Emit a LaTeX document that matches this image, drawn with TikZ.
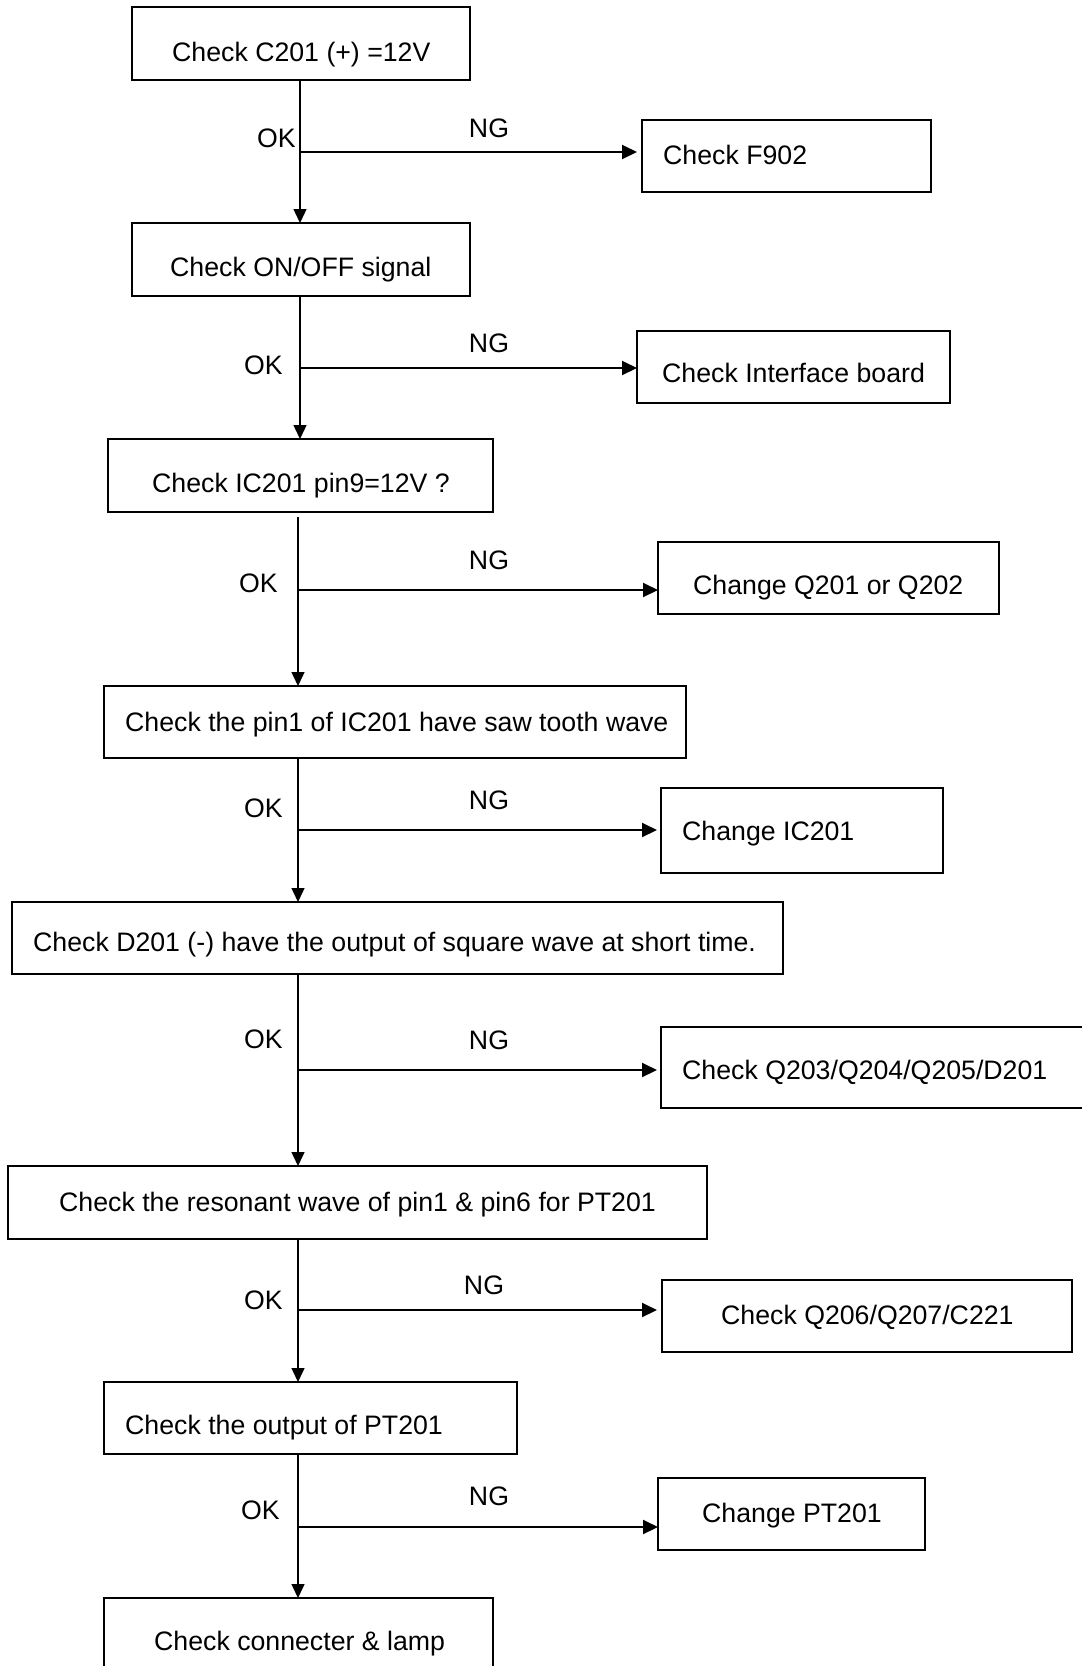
\documentclass[tikz,border=0pt]{standalone}
\usepackage{fontspec}
\setmainfont{Liberation Sans}
\usetikzlibrary{arrows.meta}
\begin{document}
\begin{tikzpicture}[x=1pt,y=-1pt,
  box/.style={draw, line width=2pt, anchor=north west, inner sep=0pt, outer sep=0pt},
  lbl/.style={font=\fontsize{26.7}{32}\selectfont, inner sep=0pt, text height=19pt, text depth=0pt, anchor=west},
  ng/.style={font=\fontsize{26.7}{32}\selectfont, inner sep=0pt, text height=19pt, text depth=0pt, anchor=center},
  spine/.style={line width=1.4pt, -{Triangle[length=14pt,width=13pt]}},
  ngarrow/.style={line width=2pt, -{Triangle[length=15pt,width=14pt]}}]
\useasboundingbox (0,0) rectangle (1082,1666);
\clip (0,0) rectangle (1082,1666);
% main boxes
\node[box, minimum width=338pt, minimum height=73pt] (b1) at (132,7) {};
\node[box, minimum width=338pt, minimum height=73pt] (b2) at (132,223) {};
\node[box, minimum width=385pt, minimum height=73pt] (b3) at (108,439) {};
\node[box, minimum width=582pt, minimum height=72pt] (b4) at (104,686) {};
\node[box, minimum width=771pt, minimum height=72pt] (b5) at (12,902) {};
\node[box, minimum width=699pt, minimum height=73pt] (b6) at (8,1166) {};
\node[box, minimum width=413pt, minimum height=72pt] (b7) at (104,1382) {};
\node[box, minimum width=389pt, minimum height=110pt] (b8) at (104,1598) {};
% side boxes
\node[box, minimum width=289pt, minimum height=72pt] (r1) at (642,120) {};
\node[box, minimum width=313pt, minimum height=72pt] (r2) at (637,331) {};
\node[box, minimum width=341pt, minimum height=72pt] (r3) at (658,542) {};
\node[box, minimum width=282pt, minimum height=85pt] (r4) at (661,788) {};
\node[box, minimum width=440pt, minimum height=81pt] (r5) at (661,1027) {};
\node[box, minimum width=410pt, minimum height=72pt] (r6) at (662,1280) {};
\node[box, minimum width=267pt, minimum height=72pt] (r7) at (658,1478) {};
% box texts
\node[lbl] (t1) at (172,52) {Check C201 (+) =12V};
\node[lbl] (t2) at (170,267) {Check ON/OFF signal};
\node[lbl] (t3) at (152,483) {Check IC201 pin9=12V ?};
\node[lbl] (t4) at (125,722) {Check the pin1 of IC201 have saw tooth wave};
\node[lbl] (t5) at (33,942) {Check D201 (-) have the output of square wave at short time.};
\node[lbl] (t6) at (59,1202) {Check the resonant wave of pin1 \& pin6 for PT201};
\node[lbl] (t7) at (125,1425) {Check the output of PT201};
\node[lbl] (t8) at (154,1641) {Check connecter \& lamp};
\node[lbl] (s1) at (663,155) {Check F902};
\node[lbl] (s2) at (662,373) {Check Interface board};
\node[lbl] (s3) at (693,585) {Change Q201 or Q202};
\node[lbl] (s4) at (682,831) {Change IC201};
\node[lbl] (s5) at (682,1070) {Check Q203/Q204/Q205/D201};
\node[lbl] (s6) at (721,1315) {Check Q206/Q207/C221};
\node[lbl] (s7) at (702,1513) {Change PT201};
% OK labels
\node[lbl] (ok1) at (257,138) {OK};
\node[lbl] (ok2) at (244,365) {OK};
\node[lbl] (ok3) at (239,583) {OK};
\node[lbl] (ok4) at (244,808) {OK};
\node[lbl] (ok5) at (244,1039) {OK};
\node[lbl] (ok6) at (244,1300) {OK};
\node[lbl] (ok7) at (241,1510) {OK};
% NG labels
\node[ng] (ng1) at (489,128) {NG};
\node[ng] (ng2) at (489,343) {NG};
\node[ng] (ng3) at (489,560) {NG};
\node[ng] (ng4) at (489,800) {NG};
\node[ng] (ng5) at (489,1040) {NG};
\node[ng] (ng6) at (484,1285) {NG};
\node[ng] (ng7) at (489,1496) {NG};
% spine coordinates
\coordinate (sa) at (300,0);
\coordinate (sb) at (298,0);
\coordinate (j1) at (300,152);
\coordinate (j2) at (300,368);
\coordinate (j3) at (298,590);
\coordinate (j4) at (298,830);
\coordinate (j5) at (298,1070);
\coordinate (j6) at (298,1310);
\coordinate (j7) at (298,1527);
% vertical connectors
\draw[spine] (b1.south -| sa) -- (b2.north -| sa);
\draw[spine] (b2.south -| sa) -- (b3.north -| sa);
\draw[spine, shorten <=5pt] (b3.south -| sb) -- (b4.north -| sb);
\draw[spine] (b4.south -| sb) -- (b5.north -| sb);
\draw[spine] (b5.south -| sb) -- (b6.north -| sb);
\draw[spine] (b6.south -| sb) -- (b7.north -| sb);
\draw[spine] (b7.south -| sb) -- (b8.north -| sb);
% NG connectors
\draw[ngarrow, shorten >=5pt] (j1) -- (j1 -| r1.west);
\draw[ngarrow] (j2) -- (j2 -| r2.west);
\draw[ngarrow] (j3) -- (j3 -| r3.west);
\draw[ngarrow, shorten >=4pt] (j4) -- (j4 -| r4.west);
\draw[ngarrow, shorten >=4pt] (j5) -- (j5 -| r5.west);
\draw[ngarrow, shorten >=5pt] (j6) -- (j6 -| r6.west);
\draw[ngarrow] (j7) -- (j7 -| r7.west);
\end{tikzpicture}
\end{document}
